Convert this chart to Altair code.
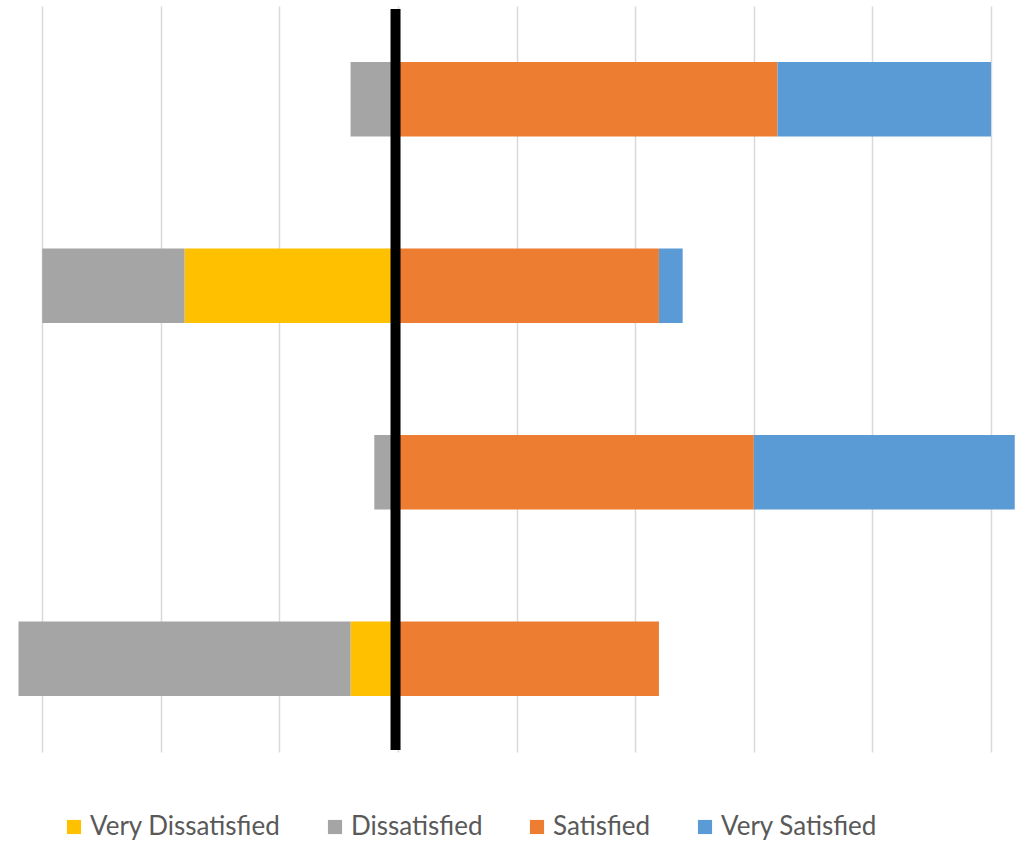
import altair as alt
import pandas as pd

questions = ["Q1", "Q2", "Q3", "Q4"]
very_dissatisfied = [0.0, 1.8, 0.0, 0.4]
dissatisfied = [0.4, 1.2, 0.2, 2.8]
satisfied = [3.2, 2.2, 3.0, 2.2]
very_satisfied = [1.8, 0.2, 2.2, 0.0]
categories = ["Very Dissatisfied", "Dissatisfied", "Satisfied", "Very Satisfied"]
colors = ["#FFC000", "#A5A5A5", "#ED7D31", "#5B9BD5"]
grid_values = [-3, -2, -1, 0, 1, 2, 3, 4, 5]

rows = []
series = [very_dissatisfied, dissatisfied, satisfied, very_satisfied]
signs = [-1, -1, 1, 1]
for qi, q in enumerate(questions):
    for ci, cat in enumerate(categories):
        v = series[ci][qi]
        if v == 0:
            continue
        rows.append({"question": q, "category": cat, "value": signs[ci] * v, "idx": ci})
df = pd.DataFrame(rows)

xscale = alt.Scale(domain=[-3.356, 5.219], nice=False, zero=False)

bars = alt.Chart(df).mark_bar().encode(
    x=alt.X("value:Q", scale=xscale, stack="zero",
            axis=alt.Axis(values=grid_values, labels=False, ticks=False, domain=False,
                          grid=True, gridColor="#D9D9D9", gridWidth=1.5, title=None)),
    y=alt.Y("question:N", sort=questions, axis=None,
            scale=alt.Scale(paddingInner=0.6, paddingOuter=0.3)),
    color=alt.Color("category:N",
                    scale=alt.Scale(domain=categories, range=colors),
                    legend=alt.Legend(orient="none", legendX=61, legendY=808,
                                      direction="horizontal", title=None,
                                      symbolType="square", symbolSize=200,
                                      symbolStrokeWidth=0,
                                      labelFont="Lato", labelFontSize=26,
                                      labelColor="#595959", columnPadding=41,
                                      labelOffset=3, labelLimit=600, padding=0,
                                      columns=4, gridAlign="none")),
    order=alt.Order("idx:Q"),
)

center = alt.Chart(pd.DataFrame({"z": [0]})).mark_rule(
    color="black", strokeWidth=10, xOffset=-2.5
).encode(x=alt.datum(0), y=alt.value(3), y2=alt.value(744))

chart = alt.layer(bars, center).properties(
    width=1017, height=746,
    autosize=alt.AutoSizeParams(type="none"),
    padding={"left": 0, "top": 6, "right": 0, "bottom": 89},
).configure_view(stroke=None)

chart.save("out.html", embed_options={"renderer": "svg", "actions": False})
